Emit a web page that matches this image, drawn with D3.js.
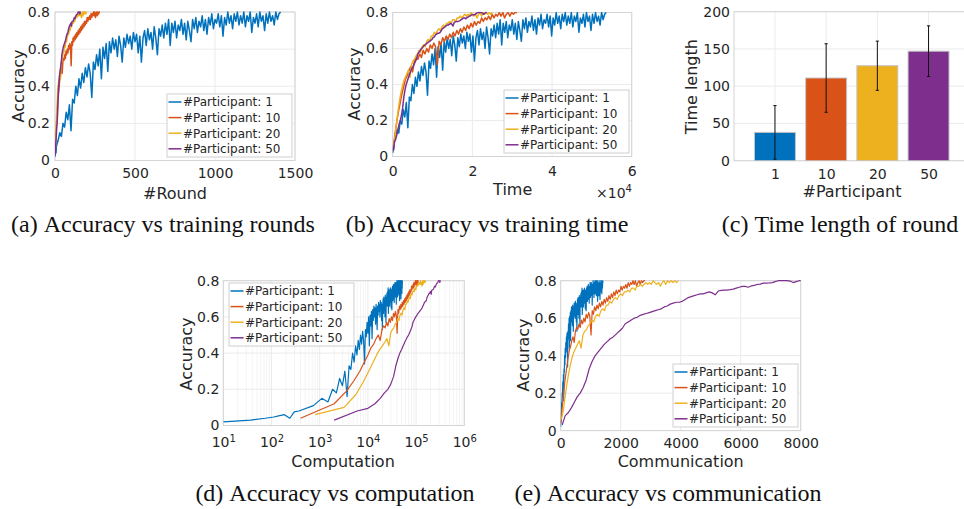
<!DOCTYPE html>
<html>
<head>
<meta charset="utf-8">
<script src="https://cdn.jsdelivr.net/npm/d3@7"></script>
<style>
  body { margin: 0; background: #fff; }
</style>
</head>
<body>
<div id="vis"></div>
<script>
// participants per run and the matlab default colours
const participants = [1, 10, 20, 50];
const colors = ['#0072bd', '#d95319', '#edb120', '#7e2f8e'];

// (c) time length of one round: mean and half length of error bar
const timeMean = [38, 111, 127.5, 147];
const timeErr = [36, 46, 33, 34];

// cost of one round, puts each run on the computation / communication axes
const computePerRound = [37, 400, 800, 2000];
const commPerRound = [1, 10, 20, 50];

// sampling of the accuracy arrays below (round of first value, rounds between values)
const roundStart = [10, 1, 1, 1];
const roundStep = [10, 4, 3, 2];

// first few rounds of the single participant run
const blueEarlyRound = [0.27, 1, 2, 3, 4, 5, 6.5, 8];
const blueEarlyAcc = [0.02, 0.03, 0.04, 0.047, 0.055, 0.06, 0.04, 0.075];

const blueAcc = [
  0.08, 0.11, 0.15, 0.13, 0.20, 0.18, 0.26, 0.22, 0.30, 0.16,
  0.33, 0.31, 0.40, 0.35, 0.44, 0.39, 0.47, 0.42, 0.50, 0.45,
  0.52, 0.47, 0.34, 0.53, 0.49, 0.57, 0.51, 0.60, 0.44, 0.61,
  0.55, 0.63, 0.48, 0.64, 0.58, 0.66, 0.60, 0.65, 0.56, 0.67,
  0.62, 0.53, 0.66, 0.61, 0.68, 0.63, 0.67, 0.60, 0.69, 0.64,
  0.68, 0.58, 0.67, 0.53, 0.66, 0.70, 0.62, 0.71, 0.65, 0.69,
  0.60, 0.72, 0.66, 0.57, 0.71, 0.67, 0.73, 0.66, 0.74, 0.68,
  0.76, 0.62, 0.74, 0.69, 0.75, 0.66, 0.73, 0.70, 0.76, 0.68,
  0.74, 0.65, 0.75, 0.70, 0.64, 0.76, 0.71, 0.77, 0.69, 0.75,
  0.72, 0.78, 0.70, 0.76, 0.68, 0.77, 0.73, 0.79, 0.71, 0.76,
  0.74, 0.79, 0.72, 0.78, 0.67, 0.77, 0.73, 0.80, 0.74, 0.78,
  0.71, 0.79, 0.75, 0.80, 0.73, 0.78, 0.74, 0.80, 0.72, 0.78,
  0.75, 0.80, 0.69, 0.77, 0.74, 0.79, 0.72, 0.80, 0.75, 0.78,
  0.70, 0.79, 0.74, 0.80, 0.75, 0.78, 0.73, 0.80, 0.76, 0.79,
  0.80
];

const orangeAcc = [
  0.04, 0.12, 0.19, 0.25, 0.30, 0.35, 0.39, 0.43, 0.45, 0.48,
  0.50, 0.47, 0.53, 0.55, 0.54, 0.57, 0.55, 0.59, 0.57, 0.60,
  0.58, 0.62, 0.60, 0.63, 0.61, 0.51, 0.64, 0.62, 0.66, 0.64,
  0.67, 0.65, 0.68, 0.66, 0.69, 0.67, 0.70, 0.68, 0.71, 0.69,
  0.72, 0.70, 0.73, 0.71, 0.74, 0.72, 0.75, 0.73, 0.75, 0.74,
  0.77, 0.75, 0.77, 0.76, 0.78, 0.76, 0.79, 0.77, 0.79, 0.78,
  0.80, 0.78, 0.80, 0.77, 0.79, 0.80, 0.78, 0.80, 0.79, 0.80,
  0.80
];

const yellowAcc = [
  0.06, 0.10, 0.17, 0.24, 0.30, 0.35, 0.39, 0.42, 0.44, 0.46,
  0.48, 0.44, 0.51, 0.53, 0.54, 0.56, 0.57, 0.59, 0.58, 0.61,
  0.62, 0.61, 0.64, 0.65, 0.64, 0.67, 0.67, 0.69, 0.68, 0.70,
  0.71, 0.70, 0.72, 0.73, 0.72, 0.74, 0.74, 0.75, 0.74, 0.76,
  0.76, 0.75, 0.77, 0.77, 0.78, 0.77, 0.78, 0.79, 0.78, 0.79,
  0.78, 0.80, 0.79, 0.78, 0.79, 0.77, 0.79, 0.80, 0.78, 0.80,
  0.79, 0.80, 0.79, 0.80, 0.79, 0.80
];

const purpleAcc = [
  0.03, 0.08, 0.095, 0.12, 0.15, 0.18, 0.20, 0.23, 0.27, 0.33,
  0.37, 0.40, 0.42, 0.44, 0.46, 0.475, 0.49, 0.50, 0.515, 0.53,
  0.545, 0.57, 0.58, 0.59, 0.60, 0.605, 0.615, 0.62, 0.625, 0.63,
  0.635, 0.64, 0.645, 0.65, 0.66, 0.665, 0.675, 0.68, 0.685, 0.685,
  0.69, 0.70, 0.71, 0.715, 0.72, 0.725, 0.73, 0.73, 0.735, 0.74,
  0.735, 0.725, 0.745, 0.748, 0.75, 0.75, 0.752, 0.755, 0.76, 0.765,
  0.77, 0.77, 0.765, 0.772, 0.775, 0.78, 0.782, 0.787, 0.787, 0.788,
  0.79, 0.795, 0.80, 0.80, 0.80, 0.80, 0.798, 0.79, 0.795, 0.80,
  0.80
];

// ticks
const accTicks = [0, 0.2, 0.4, 0.6, 0.8];
const roundTicks = [0, 500, 1000, 1500];
const timeTicks = [0, 2e4, 4e4, 6e4];
const lengthTicks = [0, 50, 100, 150, 200];
const compTicks = [1e1, 1e2, 1e3, 1e4, 1e5, 1e6];
const commTicks = [0, 2000, 4000, 6000, 8000];

const names = participants.map(p => '#Participant: ' + p);

const accSeries = [blueAcc, orangeAcc, yellowAcc, purpleAcc];
const runs = accSeries.map((acc, i) => {
  let pts = acc.map((a, k) => ({ round: roundStart[i] + k * roundStep[i], acc: a }));
  if (i === 0) {
    pts = blueEarlyRound.map((r, k) => ({ round: r, acc: blueEarlyAcc[k] })).concat(pts);
  }
  return pts;
});

const svg = d3.select('#vis').append('svg')
  .attr('width', 964)
  .attr('height', 509)
  .style('background-color', 'white');

const FONT = "'DejaVu Sans', sans-serif";
const INK = '#262626';
let clipCount = 0;

function accFmt(d) { return d === 0 ? '0' : d.toFixed(1); }

// grid, box, tick labels and clipped plot area for one panel
function frame(x, y, xt, yt, opt) {
  const g = svg.append('g');
  const [l, r] = x.range();
  const [b, t] = y.range();

  if (opt.minor) {
    g.append('g').selectAll('line').data(opt.minor).join('line')
      .attr('x1', d => x(d)).attr('x2', d => x(d))
      .attr('y1', b).attr('y2', t)
      .attr('stroke', '#f4f4f4');
  }
  g.append('g').selectAll('line').data(xt).join('line')
    .attr('x1', d => x(d)).attr('x2', d => x(d))
    .attr('y1', b).attr('y2', t)
    .attr('stroke', '#ebebeb');
  g.append('g').selectAll('line').data(yt).join('line')
    .attr('x1', l).attr('x2', r)
    .attr('y1', d => y(d)).attr('y2', d => y(d))
    .attr('stroke', '#ebebeb');

  g.append('rect')
    .attr('x', l).attr('y', t)
    .attr('width', r - l).attr('height', b - t)
    .attr('fill', 'none')
    .attr('stroke', '#d4d4d4');

  const ax = g.append('g')
    .attr('transform', `translate(0,${b})`)
    .call(d3.axisBottom(x).tickValues(xt).tickSize(0).tickPadding(opt.padX).tickFormat(opt.fmtX));
  const ay = g.append('g')
    .attr('transform', `translate(${l},0)`)
    .call(d3.axisLeft(y).tickValues(yt).tickSize(0).tickPadding(opt.padY).tickFormat(opt.fmtY));
  [ax, ay].forEach(a => {
    a.select('.domain').remove();
    a.attr('font-size', 14).attr('font-family', FONT).attr('color', INK);
  });

  const id = 'clip' + (clipCount++);
  svg.append('clipPath').attr('id', id)
    .append('rect')
    .attr('x', l).attr('y', t - 1)
    .attr('width', r - l).attr('height', b - t + 1);
  const plot = g.append('g').attr('clip-path', `url(#${id})`);
  return { g, plot, ax };
}

function drawRuns(plot, x, y, xOf, width) {
  runs.forEach((pts, i) => {
    const line = d3.line()
      .defined(p => isFinite(x(xOf(p, i))))
      .x(p => x(xOf(p, i)))
      .y(p => y(p.acc));
    plot.append('path')
      .datum(pts)
      .attr('d', line)
      .attr('fill', 'none')
      .attr('stroke', colors[i])
      .attr('stroke-width', width)
      .attr('stroke-linejoin', 'round');
  });
}

function legend(g, left, top) {
  const lg = g.append('g');
  lg.append('rect')
    .attr('x', left).attr('y', top)
    .attr('width', 125).attr('height', 63)
    .attr('fill', 'white')
    .attr('stroke', '#cfcfcf');
  names.forEach((n, i) => {
    const cy = top + 8 + i * 15.6;
    lg.append('line')
      .attr('x1', left + 1.5).attr('x2', left + 14.5)
      .attr('y1', cy).attr('y2', cy)
      .attr('stroke', colors[i]).attr('stroke-width', 1.5);
    lg.append('text')
      .attr('x', left + 16).attr('y', cy + 4.3)
      .attr('font-size', 12).attr('font-family', FONT).attr('fill', INK)
      .text(n);
  });
}

function axisTitle(text, x, y, rotate) {
  svg.append('text')
    .attr('transform', rotate ? `translate(${x},${y}) rotate(-90)` : `translate(${x},${y})`)
    .attr('text-anchor', 'middle')
    .attr('font-size', 16).attr('font-family', FONT).attr('fill', INK)
    .text(text);
}

function caption(tag, text, cx, y) {
  const t = svg.append('text')
    .attr('x', cx).attr('y', y)
    .attr('text-anchor', 'middle')
    .attr('font-size', 24)
    .attr('font-family', "'Liberation Serif', 'Times New Roman', serif")
    .attr('fill', '#111');
  t.append('tspan').text(tag);
  t.append('tspan').attr('dx', 6).text(text);
}

// (a) accuracy vs rounds
{
  const x = d3.scaleLinear().domain([0, 1500]).range([55, 295]);
  const y = d3.scaleLinear().domain([0, 0.8]).range([160.5, 12]);
  const p = frame(x, y, roundTicks, accTicks, { padX: 7.5, padY: 5, fmtX: d3.format('d'), fmtY: accFmt });
  drawRuns(p.plot, x, y, pt => pt.round, 1.5);
  legend(p.g, 167, 94);
  axisTitle('Accuracy', 23.5, 86, true);
  axisTitle('#Round', 175, 199, false);
  caption('(a)', 'Accuracy vs training rounds', 163, 232);
}

// (b) accuracy vs time
{
  const x = d3.scaleLinear().domain([0, 6e4]).range([392.7, 631.7]);
  const y = d3.scaleLinear().domain([0, 0.8]).range([156.5, 12.5]);
  const p = frame(x, y, timeTicks, accTicks, { padX: 9.5, padY: 4.5, fmtX: d => d / 1e4, fmtY: accFmt });
  drawRuns(p.plot, x, y, (pt, i) => pt.round * timeMean[i], 1.5);
  legend(p.g, 504, 90);
  axisTitle('Accuracy', 360, 84, true);
  axisTitle('Time', 512.7, 195, false);
  const m = svg.append('text')
    .attr('x', 596).attr('y', 198)
    .attr('font-size', 14).attr('font-family', FONT).attr('fill', INK);
  m.append('tspan').text('\u00d710');
  m.append('tspan').attr('dy', -6).attr('font-size', 10).text('4');
  caption('(b)', 'Accuracy vs training time', 487, 232);
}

// (c) time length of one round
{
  const x = d3.scaleLinear().domain([0.2, 4.8]).range([734, 969.5]);
  const y = d3.scaleLinear().domain([0, 200]).range([160.7, 11.7]);
  const p = frame(x, y, [1, 2, 3, 4], lengthTicks, { padX: 8.3, padY: 4, fmtX: d => participants[d - 1], fmtY: d3.format('d') });
  p.plot.selectAll('rect.bar').data(timeMean).join('rect')
    .attr('class', 'bar')
    .attr('x', (d, i) => x(i + 0.6))
    .attr('width', x(1.4) - x(0.6))
    .attr('y', d => y(d))
    .attr('height', d => y(0) - y(d))
    .attr('fill', (d, i) => colors[i])
    .attr('stroke', '#c4c4c4');
  const eb = p.plot.append('g').attr('stroke', '#111').attr('stroke-width', 1);
  timeMean.forEach((m, i) => {
    const cx = x(i + 1);
    const lo = y(m - timeErr[i]), hi = y(m + timeErr[i]);
    eb.append('line').attr('x1', cx).attr('x2', cx).attr('y1', lo).attr('y2', hi);
    eb.append('line').attr('x1', cx - 1.6).attr('x2', cx + 1.6).attr('y1', lo).attr('y2', lo);
    eb.append('line').attr('x1', cx - 1.6).attr('x2', cx + 1.6).attr('y1', hi).attr('y2', hi);
  });
  axisTitle('Time length', 697, 86.7, true);
  axisTitle('#Participant', 852, 196.5, false);
  caption('(c)', 'Time length of round', 840, 232);
}

// (d) accuracy vs computation (log x)
{
  const x = d3.scaleLog().domain([1e1, 1e6]).range([223.3, 464.3]);
  const y = d3.scaleLinear().domain([0, 0.8]).range([425.5, 280.7]);
  const minor = x.ticks().filter(d => !compTicks.includes(d));
  const p = frame(x, y, compTicks, accTicks, { padX: 11.5, padY: 4, fmtX: () => '', fmtY: accFmt, minor });
  p.ax.selectAll('.tick text').each(function (d) {
    const t = d3.select(this);
    t.append('tspan').text('10');
    t.append('tspan').attr('dy', '-0.5em').attr('font-size', 10).text(Math.round(Math.log10(d)));
  });
  drawRuns(p.plot, x, y, (pt, i) => pt.round * computePerRound[i], 1.2);
  legend(p.g, 229, 283);
  axisTitle('Accuracy', 192, 354, true);
  axisTitle('Computation', 343, 467, false);
  caption('(d)', 'Accuracy vs computation', 335, 501);
}

// (e) accuracy vs communication
{
  const x = d3.scaleLinear().domain([0, 8000]).range([560.7, 800.7]);
  const y = d3.scaleLinear().domain([0, 0.8]).range([430.6, 280.7]);
  const p = frame(x, y, commTicks, accTicks, { padX: 7.4, padY: 4, fmtX: d3.format('d'), fmtY: accFmt });
  drawRuns(p.plot, x, y, (pt, i) => pt.round * commPerRound[i], 1.2);
  legend(p.g, 673, 364);
  axisTitle('Accuracy', 528.5, 355, true);
  axisTitle('Communication', 680.7, 467, false);
  caption('(e)', 'Accuracy vs communication', 668, 501);
}
</script>
</body>
</html>
